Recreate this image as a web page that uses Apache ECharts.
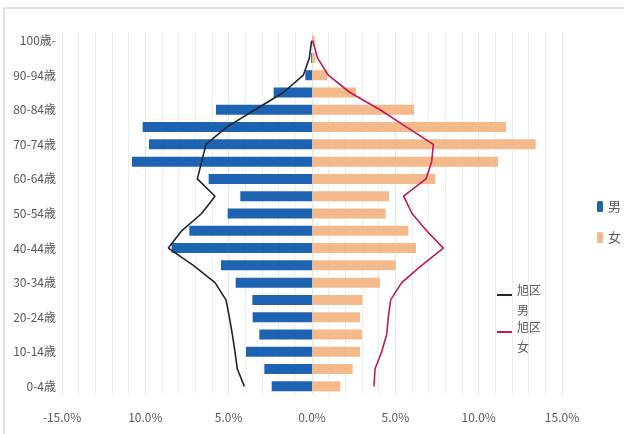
<!DOCTYPE html>
<html>
<head>
<meta charset="utf-8">
<script src="https://cdn.jsdelivr.net/npm/echarts@6/dist/echarts.min.js"></script>
<style>
html,body{margin:0;padding:0;background:#fff;}
#c{width:624px;height:434px;}
</style>
</head>
<body>
<div id="c"></div>
<script>
const categories = ['0-4歳','5-9歳','10-14歳','15-19歳','20-24歳','25-29歳','30-34歳','35-39歳','40-44歳','45-49歳','50-54歳','55-59歳','60-64歳','65-69歳','70-74歳','75-79歳','80-84歳','85-89歳','90-94歳','95-99歳','100歳-'];
const maleBars = [2.42,2.86,3.96,3.16,3.56,3.58,4.58,5.46,8.42,7.36,5.06,4.3,6.2,10.8,9.78,10.16,5.76,2.3,0.4,0.05,0];
const femaleBars = [1.7,2.44,2.88,3.0,2.88,3.02,4.08,5.02,6.24,5.78,4.42,4.62,7.4,11.16,13.42,11.64,6.12,2.64,0.9,0.2,0.15];
const wardMale = [4.06,4.48,4.62,4.78,4.96,5.16,5.82,7.12,8.62,7.82,6.62,5.82,6.88,6.62,6.36,5.12,3.42,1.72,0.52,0.16,0.02];
const wardFemale = [3.72,3.78,4.18,4.48,4.58,4.72,5.38,6.58,7.88,6.88,6.0,5.5,6.84,7.18,7.28,5.68,4.08,2.28,0.98,0.33,0.05];
const xTickValues = [-15,-10,-5,0,5,10,15];
const xTickLabels = ['-15.0%','10.0%','5.0%','0.0%','5.0%','10.0%','15.0%'];

const FONT = '"Liberation Sans Narrow","Noto Sans CJK JP",sans-serif';
const LINE_ICON = 'path://M0,14 L15,14 L15,16 L0,16 Z M0,0 L0.01,0 L0.01,0.01 Z M0,40 L0.01,40 L0.01,39.99 Z';
const chart = echarts.init(document.getElementById('c'), null, {renderer:'canvas'});
chart.setOption({
  animation:false,
  backgroundColor:'#fff',
  graphic:[{type:'rect',shape:{x:4,y:8,width:640,height:440},style:{fill:'none',stroke:'#d9d9d9',lineWidth:1.5},silent:true}],
  grid:{left:62,right:62,top:32,bottom:39},
  xAxis:{
    type:'value',min:-15,max:15,interval:5,
    axisLine:{show:false},axisTick:{show:false},
    splitLine:{show:true,lineStyle:{color:'#e6e6e6',width:1}},
    minorTick:{show:false,splitNumber:5},
    minorSplitLine:{show:true,lineStyle:{color:'#eeeeee',width:1}},
    axisLabel:{color:'#595959',fontSize:12,fontFamily:FONT,margin:16,
      formatter:v=>{const i=xTickValues.indexOf(v);return i>=0?xTickLabels[i]:'';}}
  },
  yAxis:{
    type:'category',data:categories,
    axisLine:{show:false},axisTick:{show:false},
    axisLabel:{interval:1,color:'#595959',fontSize:12,fontFamily:FONT,margin:6}
  },
  legend:[
    {data:['男','女'],orient:'vertical',left:597,top:200,itemGap:18,itemWidth:6,itemHeight:11,padding:0,
     textStyle:{color:'#595959',fontSize:13,fontFamily:FONT}},
    {data:[{name:'旭区男',icon:LINE_ICON}],orient:'vertical',left:497,top:280,itemWidth:15,itemHeight:40,padding:0,
     formatter:n=>n.slice(0,2)+'\n'+n.slice(2),
     textStyle:{color:'#595959',fontSize:12,fontFamily:FONT,lineHeight:20}},
    {data:[{name:'旭区女',icon:LINE_ICON}],orient:'vertical',left:497,top:317,itemWidth:15,itemHeight:40,padding:0,
     formatter:n=>n.slice(0,2)+'\n'+n.slice(2),
     textStyle:{color:'#595959',fontSize:12,fontFamily:FONT,lineHeight:20}}
  ],
  series:[
    {name:'男',type:'bar',data:maleBars.map(v=>-v),barWidth:10,barGap:'-100%',itemStyle:{color:'#1E63B1'}},
    {name:'女',type:'bar',data:femaleBars,barWidth:10,barGap:'-100%',itemStyle:{color:'#F4B98A'}},
    {name:'旭区男',type:'line',data:wardMale.map(v=>-v),symbol:'none',lineStyle:{color:'#1c2530',width:1.6},itemStyle:{color:'#1c2530'},z:5},
    {name:'旭区女',type:'line',data:wardFemale,symbol:'none',lineStyle:{color:'#C2185B',width:1.6},itemStyle:{color:'#C2185B'},z:5}
  ]
});
</script>
</body>
</html>
